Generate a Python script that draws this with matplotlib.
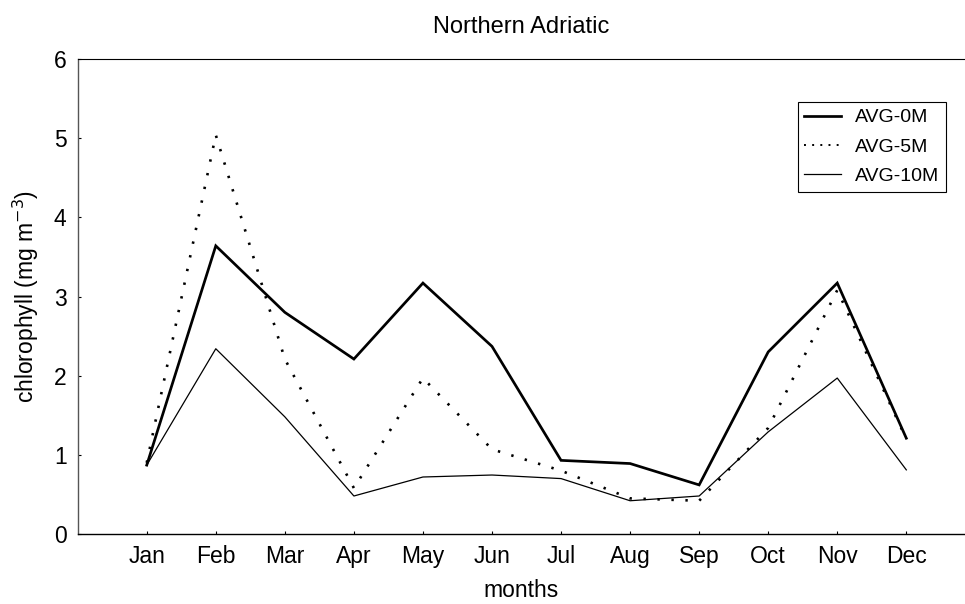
import matplotlib
matplotlib.use("Agg")
import matplotlib.pyplot as plt
from matplotlib.lines import Line2D
import numpy as np

plt.rcParams['font.family'] = ['Liberation Sans', 'DejaVu Sans']

months = ["Jan", "Feb", "Mar", "Apr", "May", "Jun",
          "Jul", "Aug", "Sep", "Oct", "Nov", "Dec"]
avg_0m = [0.87, 3.64, 2.80, 2.21, 3.17, 2.37, 0.93, 0.89, 0.62, 2.30, 3.17, 1.21]
avg_5m = [0.90, 5.04, 2.21, 0.58, 1.97, 1.07, 0.80, 0.45, 0.42, 1.34, 3.08, 1.20]
avg_10m = [0.87, 2.34, 1.48, 0.48, 0.72, 0.745, 0.70, 0.42, 0.48, 1.29, 1.97, 0.81]

x = np.arange(1, len(months) + 1)

fig = plt.figure(figsize=(9.65, 6.04), dpi=100)
ax = fig.add_axes([0.0805, 0.1159, 0.9195, 0.7864])

ax.plot(x, avg_0m, color="black", linewidth=1.95, solid_joinstyle="miter")
ax.plot(x, avg_5m, color="black", linewidth=1.9, linestyle=(0, (0.9, 4.4)))
ax.plot(x, avg_10m, color="black", linewidth=0.9)

ax.set_xlim(0, 12.85)
ax.set_ylim(0, 6)
ax.set_xticks(x)
ax.set_xticklabels(months)
ax.set_yticks(range(0, 7))

ax.tick_params(direction="in", length=2.5, width=0.8, labelsize=16.5, pad=8)
ax.spines["right"].set_visible(False)
ax.spines["left"].set_color("#555555")
ax.spines["left"].set_linewidth(1.0)
ax.spines["bottom"].set_linewidth(1.0)
ax.spines["top"].set_linewidth(0.8)

ax.set_xlabel("months", fontsize=16.5, labelpad=8)
ax.set_ylabel("chlorophyll (mg m$^{-3}$)", fontsize=16.5, labelpad=9)
ax.set_title("Northern Adriatic", fontsize=17, pad=19)

handles = [
    Line2D([], [], color="black", linewidth=1.95),
    Line2D([], [], color="black", linewidth=1.4, linestyle=(0, (1, 3.2))),
    Line2D([], [], color="black", linewidth=0.9),
]
leg = ax.legend(handles, ["AVG-0M", "AVG-5M", "AVG-10M"],
                loc="upper right", bbox_to_anchor=(0.9786, 0.9095),
                fontsize=14, frameon=True, fancybox=False, framealpha=1,
                edgecolor="black", handlelength=1.9, handletextpad=0.7,
                labelspacing=0.6, borderpad=0.35, borderaxespad=0)
leg.get_frame().set_linewidth(0.8)

plt.savefig("out.png", dpi=100)
